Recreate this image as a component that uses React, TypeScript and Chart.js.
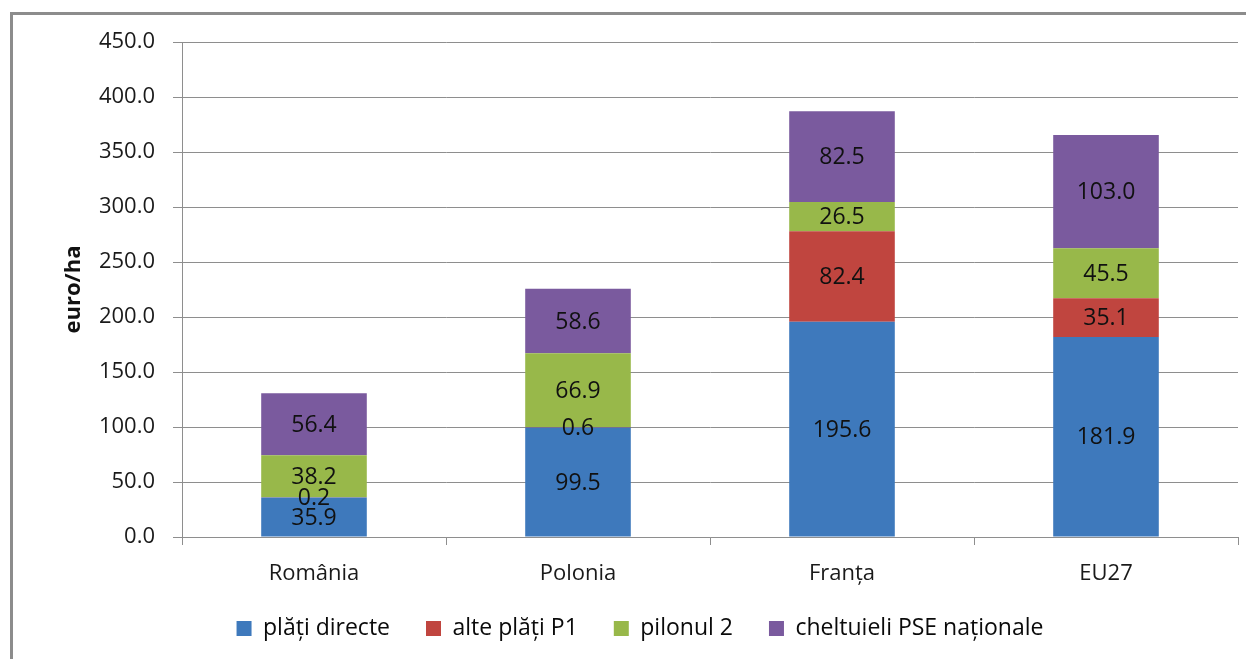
import React, { useEffect, useRef } from "react";
import { Chart, registerables } from "chart.js";

Chart.register(...registerables);

const categories = ["România", "Polonia", "Franța", "EU27"];
const seriesNames = ["plăți directe", "alte plăți P1", "pilonul 2", "cheltuieli PSE naționale"];
const platiDirecte = [35.9, 99.5, 195.6, 181.9];
const altePlatiP1 = [0.2, 0.6, 82.4, 35.1];
const pilonul2 = [38.2, 66.9, 26.5, 45.5];
const cheltuieliPSE = [56.4, 58.6, 82.5, 103.0];
const seriesColors = ["#3E79BC", "#C0453F", "#98B84A", "#7A5A9E"];
const yMin = 0;
const yMax = 450;
const yStep = 50;
const yTitle = "euro/ha";

const FONT = '"Open Sans", "DejaVu Sans", sans-serif';

const dataLabelPlugin = {
  id: "stackDataLabels",
  afterDatasetsDraw(chart: any) {
    const ctx = chart.ctx;
    ctx.save();
    ctx.font = `23px ${FONT}`;
    ctx.fillStyle = "#111";
    ctx.textAlign = "center";
    ctx.textBaseline = "middle";
    chart.data.datasets.forEach((ds: any, i: number) => {
      const meta = chart.getDatasetMeta(i);
      meta.data.forEach((el: any, j: number) => {
        const v = ds.data[j];
        const p = el.getProps(["x", "y", "base"], true);
        ctx.fillText(Number(v).toFixed(1), p.x, (p.y + p.base) / 2 + 1);
      });
    });
    ctx.restore();
  },
};

const legendShiftPlugin = {
  id: "legendShift",
  afterLayout(chart: any) {
    const l = chart.legend;
    if (l) {
      l.top -= 8;
      l.bottom -= 8;
    }
  },
};

export default function App() {
  const ref = useRef<HTMLCanvasElement | null>(null);

  useEffect(() => {
    if (!ref.current) return;
    const seriesData = [platiDirecte, altePlatiP1, pilonul2, cheltuieliPSE];
    const chart = new Chart(ref.current, {
      type: "bar",
      data: {
        labels: categories,
        datasets: seriesNames.map((name, i) => ({
          label: name,
          data: seriesData[i],
          backgroundColor: seriesColors[i],
          borderWidth: 0,
          barPercentage: 0.4,
          categoryPercentage: 1,
        })),
      },
      options: {
        responsive: false,
        animation: false,
        layout: { padding: { left: 42, right: 8, top: 42, bottom: 1 } },
        plugins: {
          tooltip: { enabled: false },
          legend: {
            position: "bottom",
            labels: {
              boxWidth: 15,
              boxHeight: 15,
              padding: 36,
              color: "#0a0a0a",
              font: { family: FONT, size: 23 },
            },
          },
        },
        scales: {
          x: {
            stacked: true,
            grid: {
              drawOnChartArea: false,
              drawTicks: true,
              tickLength: 8,
              offset: true,
              color: "#8e8e8e",
            },
            border: { color: "#8e8e8e" },
            ticks: {
              color: "#1a1a1a",
              padding: 16,
              font: { family: FONT, size: 22 },
            },
            afterFit(s: any) {
              s.height = 52;
            },
          },
          y: {
            stacked: true,
            min: yMin,
            max: yMax,
            grid: { color: "#8e8e8e", tickLength: 9 },
            border: { color: "#8e8e8e" },
            ticks: {
              stepSize: yStep,
              color: "#1a1a1a",
              padding: 18,
              font: { family: FONT, size: 22 },
              callback: (v: any) => Number(v).toFixed(1),
            },
            title: {
              display: true,
              text: yTitle,
              color: "#111",
              font: { family: FONT, size: 22, weight: "bold" },
              padding: { top: 19, bottom: 0 },
            },
            afterFit(s: any) {
              s.width = 140;
            },
          },
        },
      },
      plugins: [dataLabelPlugin, legendShiftPlugin],
    });
    return () => chart.destroy();
  }, []);

  return (
    <div
      style={{
        position: "absolute",
        left: 0,
        top: 0,
        width: 1246,
        height: 659,
        overflow: "hidden",
        background: "#fff",
      }}
    >
      <div
        style={{
          position: "absolute",
          left: 10,
          top: 12,
          width: 1260,
          height: 680,
          borderLeft: "3px solid #8c8c8c",
          borderTop: "3px solid #8c8c8c",
        }}
      />
      <canvas
        ref={ref}
        width={1246}
        height={659}
        style={{ position: "absolute", left: 0, top: 0 }}
      />
    </div>
  );
}
